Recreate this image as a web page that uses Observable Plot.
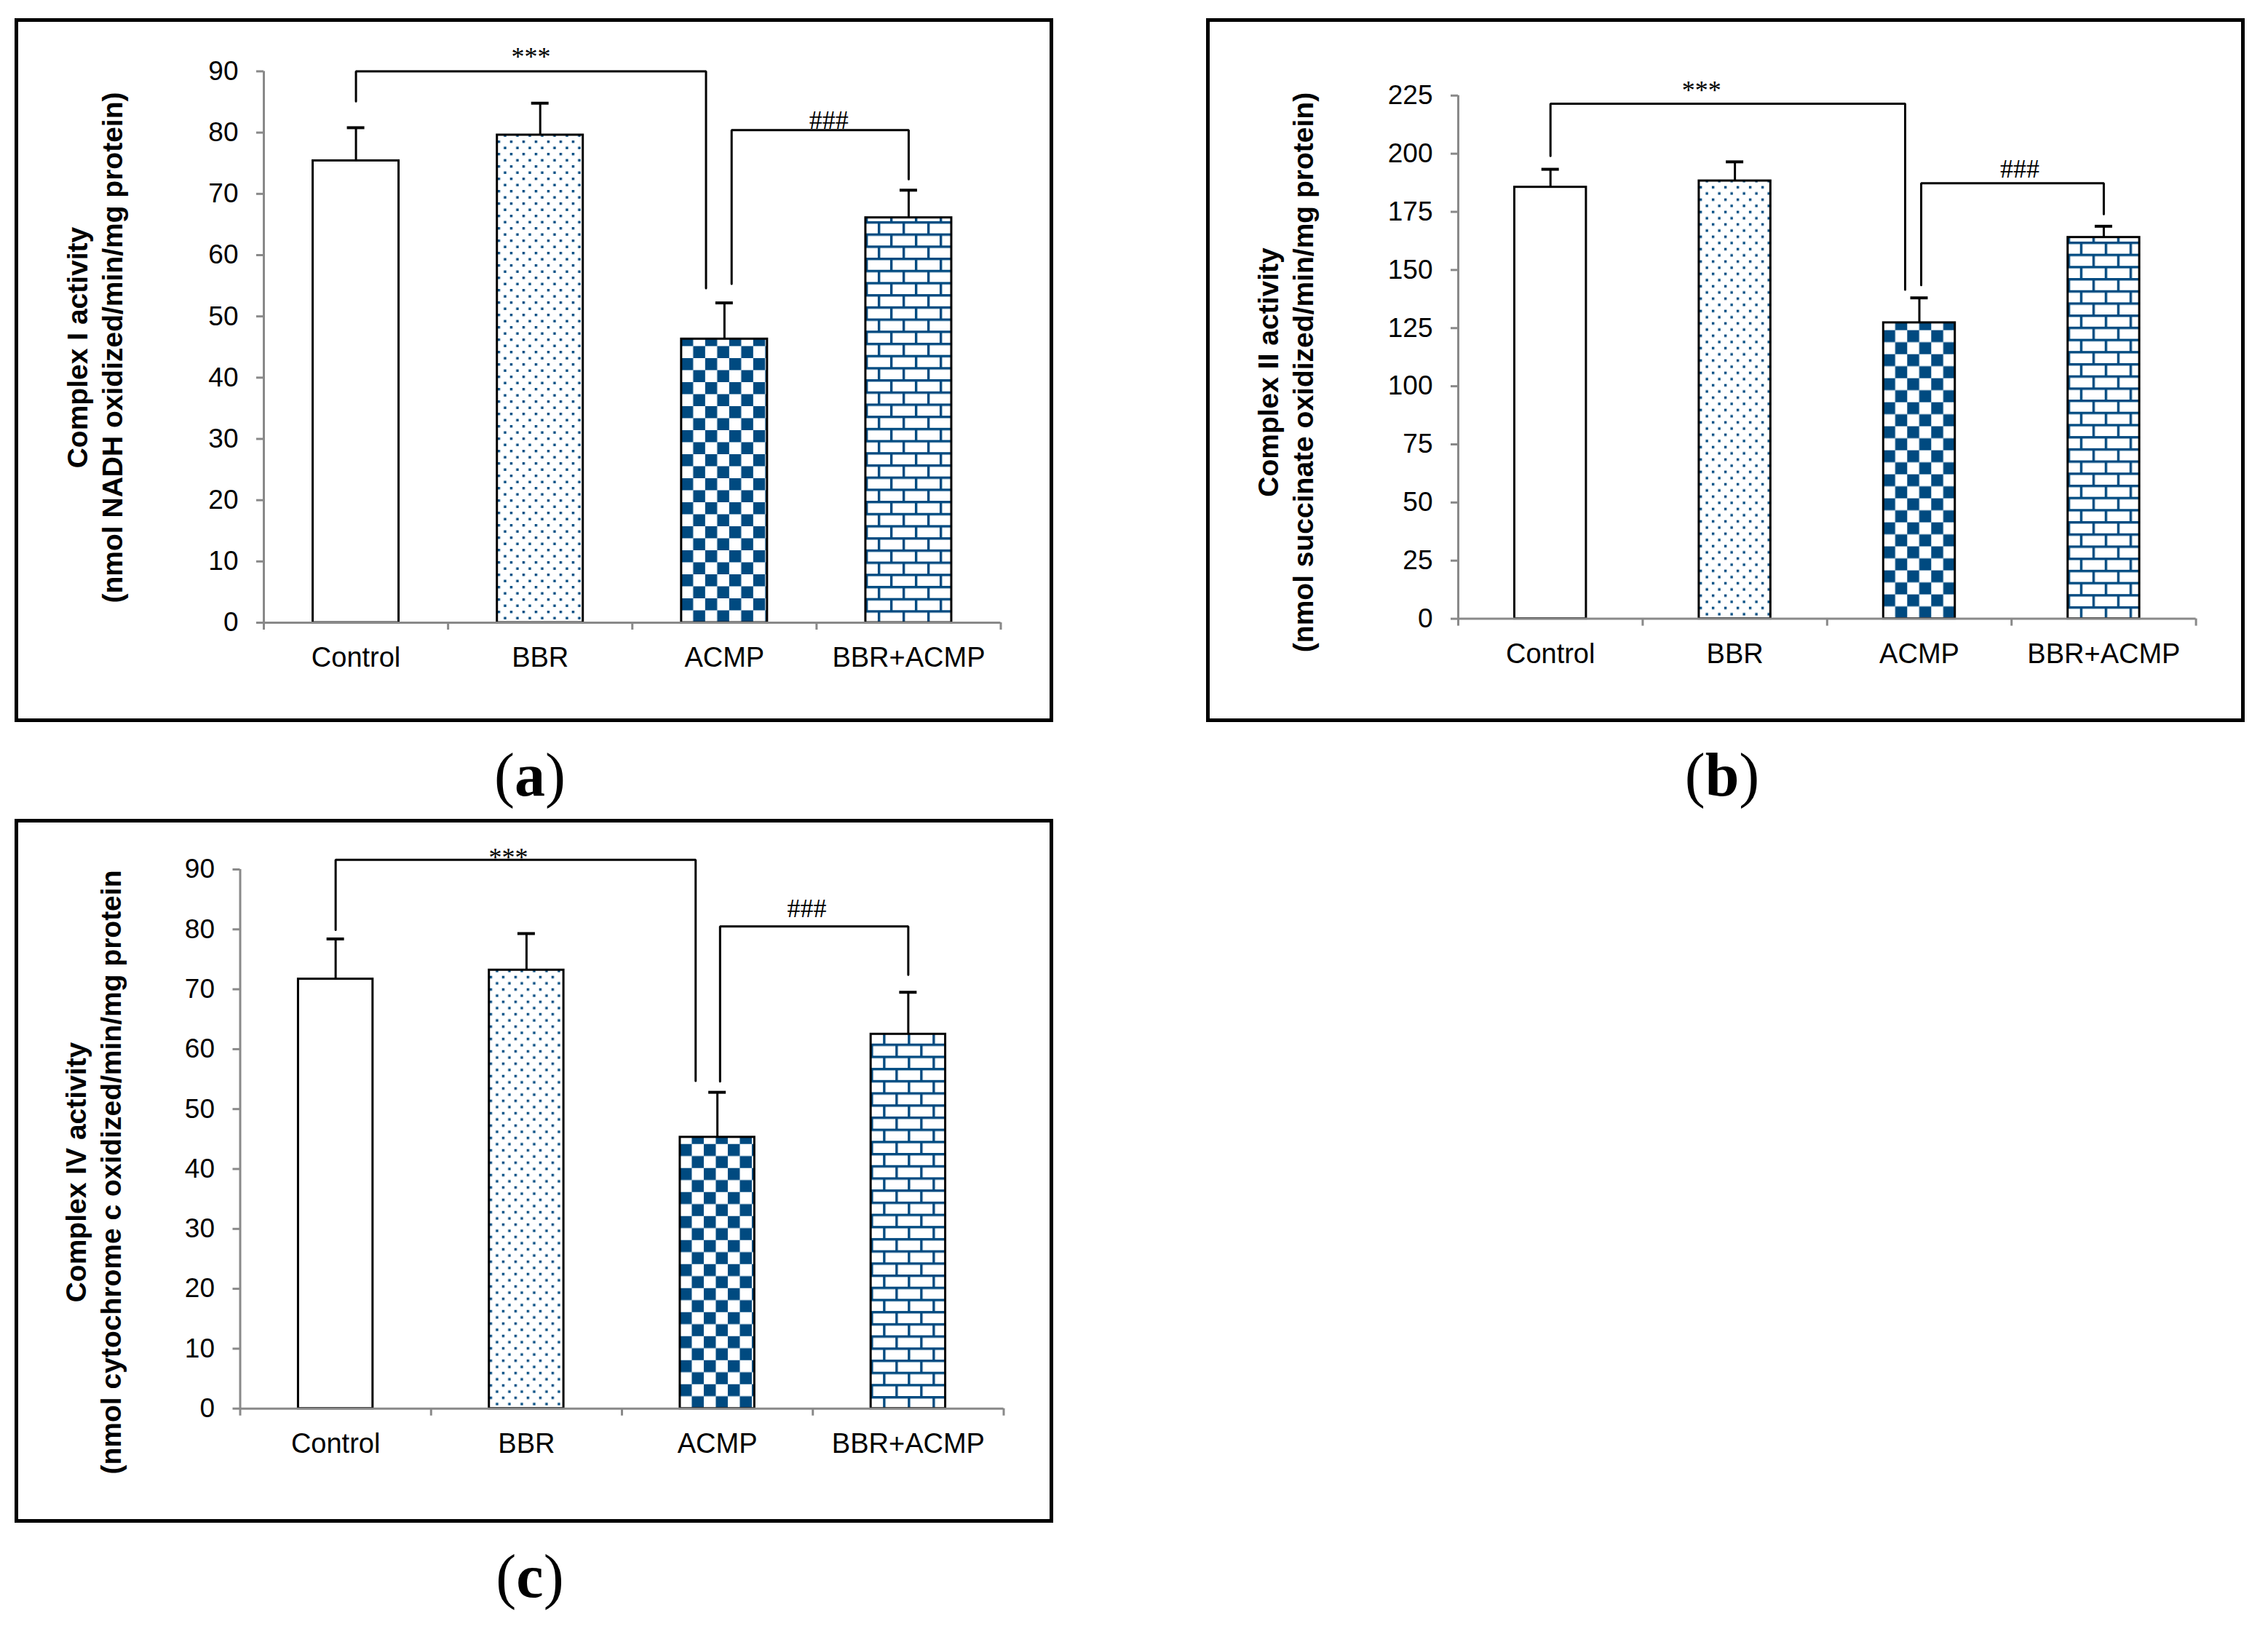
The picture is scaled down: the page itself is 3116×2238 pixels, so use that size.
<!DOCTYPE html>
<html><head><meta charset="utf-8">
<script src="https://cdn.jsdelivr.net/npm/d3@7"></script>
<script src="https://cdn.jsdelivr.net/npm/@observablehq/plot@0.6"></script>
<style>
html,body{margin:0;padding:0;background:#fff;}
#page{position:relative;width:3116px;height:2238px;background:#fff;overflow:hidden;}
.panel{position:absolute;box-sizing:border-box;border:5px solid #000;background:#fff;}
.panel svg{display:block;}
.tag{position:absolute;font-family:"Liberation Serif","Times New Roman",serif;font-size:84px;line-height:1;transform:translate(-50%,-50%);white-space:nowrap;color:#000;}
.tag b{font-weight:bold;}
</style></head><body><div id="page"></div>
<script>
// ---------- data ----------
const groups = ["Control", "BBR", "ACMP", "BBR+ACMP"];
const complexI = [75.4, 79.6, 46.3, 66.1];
const complexIErr = [5.4, 5.2, 5.9, 4.5];
const complexII = [185.6, 188.3, 127.3, 164.0];
const complexIIErr = [7.7, 8.2, 10.7, 4.8];
const complexIV = [71.7, 73.2, 45.3, 62.5];
const complexIVErr = [6.7, 6.1, 7.5, 7.0];
const ticksI = [0, 10, 20, 30, 40, 50, 60, 70, 80, 90];
const ticksII = [0, 25, 50, 75, 100, 125, 150, 175, 200, 225];
const ticksIV = [0, 10, 20, 30, 40, 50, 60, 70, 80, 90];
// significance brackets: bracket level and where each leg ends (in data units)
const bracketsI = [
  {label: "***", from: "Control", to: "ACMP", top: 90, fromEnd: 85.1, toEnd: 54.6},
  {label: "###", from: "ACMP", to: "BBR+ACMP", top: 80.4, fromEnd: 55.3, toEnd: 72.4}
];
const bracketsII = [
  {label: "***", from: "Control", to: "ACMP", top: 221.5, fromEnd: 199.0, toEnd: 141.5},
  {label: "###", from: "ACMP", to: "BBR+ACMP", top: 187.3, fromEnd: 143.5, toEnd: 174.0}
];
const bracketsIV = [
  {label: "***", from: "Control", to: "ACMP", top: 91.6, fromEnd: 79.9, toEnd: 54.7},
  {label: "###", from: "ACMP", to: "BBR+ACMP", top: 80.5, fromEnd: 54.6, toEnd: 72.4}
];

// ---------- layout / style ----------
const BLUE = "#004a80";
const GRAY = "#898989";
const panels = [
  {key: "a", values: complexI, errors: complexIErr, ticks: ticksI, brackets: bracketsI,
   title: "Complex I activity\n(nmol NADH oxidized/min/mg protein)",
   box: {left: 20, top: 25, width: 1427, height: 967},
   margin: {left: 337, right: 67.5, top: 67.5, bottom: 132},
   barWidth: 121, legOffsets: [[0, -0.1], [0.039, 0]], labelOffsets: [[0, -8], [12, -2]],
   titlePos: [103, 447], tagPos: [728, 1065]},
  {key: "b", values: complexII, errors: complexIIErr, ticks: ticksII, brackets: bracketsII,
   title: "Complex II activity\n(nmol succinate oxidized/min/mg protein)",
   box: {left: 1657, top: 25, width: 1427, height: 967},
   margin: {left: 341, right: 62.4, top: 100.8, bottom: 137.4},
   barWidth: 101.4, legOffsets: [[0, -0.077], [0.01, 0]], labelOffsets: [[-36, -6], [10, -8]],
   titlePos: [102, 481], tagPos: [2366, 1065]},
  {key: "c", values: complexIV, errors: complexIVErr, ticks: ticksIV, brackets: bracketsIV,
   title: "Complex IV activity\n(nmol cytochrome c oxidized/min/mg protein",
   box: {left: 20, top: 1125, width: 1427, height: 967},
   margin: {left: 304.5, right: 63.5, top: 64, bottom: 152.3},
   barWidth: 105.4, legOffsets: [[0, -0.114], [0.014, 0]], labelOffsets: [[-10, 9], [-10, -13]],
   titlePos: [101, 480], tagPos: [728, 2166]}
];

const page = document.getElementById("page");

function drawPanel(p) {
  const W = p.box.width - 10, H = p.box.height - 10;
  const m = p.margin;
  const band = (W - m.left - m.right) / groups.length;
  const inset = (band - p.barWidth) / 2 + 1.5;
  const y0 = H - m.bottom;
  const barLeft = i => m.left + i * band + inset;
  const data = groups.map((g, i) => ({group: g, i, value: p.values[i], err: p.errors[i]}));
  const idx = g => groups.indexOf(g);
  const fillFor = {
    "Control": "white",
    "BBR": `url(#dots-${p.key})`,
    "ACMP": `url(#check-${p.key})`,
    "BBR+ACMP": `url(#brick-${p.key})`
  };

  const defsMark = () => {
    const defs = d3.create("svg:defs");
    defs.html(`
      <pattern id="dots-${p.key}" patternUnits="userSpaceOnUse" width="17" height="17" x="${barLeft(1)}" y="${y0}">
        <rect width="17" height="17" fill="white"/>
        <rect x="1" y="1" width="3.4" height="3.4" fill="${BLUE}"/>
        <rect x="9.5" y="9.5" width="3.4" height="3.4" fill="${BLUE}"/>
      </pattern>
      <pattern id="check-${p.key}" patternUnits="userSpaceOnUse" width="33" height="33" x="${barLeft(2)}" y="${y0}">
        <rect width="33" height="33" fill="white"/>
        <rect x="0" y="0" width="16.5" height="16.5" fill="${BLUE}"/>
        <rect x="16.5" y="16.5" width="16.5" height="16.5" fill="${BLUE}"/>
      </pattern>
      <pattern id="brick-${p.key}" patternUnits="userSpaceOnUse" width="34" height="33.4" x="${barLeft(3)}" y="${y0}">
        <rect width="34" height="33.4" fill="${BLUE}"/>
        <rect x="3.4" y="3.4" width="30.6" height="13.3" fill="white"/>
        <rect x="0" y="20.1" width="17" height="13.3" fill="white"/>
        <rect x="20.4" y="20.1" width="13.6" height="13.3" fill="white"/>
      </pattern>`);
    return defs.node();
  };

  const bracketPts = p.brackets.flatMap((b, k) => {
    const x1 = idx(b.from) + 0.5 + p.legOffsets[k][0];
    const x2 = idx(b.to) + 0.5 + p.legOffsets[k][1];
    return [{k, x: x1, y: b.fromEnd}, {k, x: x1, y: b.top}, {k, x: x2, y: b.top}, {k, x: x2, y: b.toEnd}];
  });
  const labelMarks = p.brackets.map((b, k) => {
    const cx = (idx(b.from) + idx(b.to)) / 2 + 0.5 + (p.legOffsets[k][0] + p.legOffsets[k][1]) / 2;
    return Plot.text([{label: b.label, x: cx, y: b.top}], {
      x: "x", y: "y", text: "label", dx: p.labelOffsets[k][0], dy: p.labelOffsets[k][1],
      lineAnchor: "bottom", textAnchor: "middle", fontSize: 36,
      fontFamily: "Liberation Serif, Times New Roman, serif", fill: "black"
    });
  });

  const chart = Plot.plot({
    width: W, height: H,
    marginLeft: m.left, marginRight: m.right, marginTop: m.top, marginBottom: m.bottom,
    x: {domain: [0, groups.length]},
    y: {domain: [p.ticks[0], p.ticks[p.ticks.length - 1]]},
    color: {type: "identity"},
    style: {fontFamily: "Liberation Sans, Arial, sans-serif", fontSize: "37px", color: "black", background: "white", overflow: "visible"},
    marks: [
      defsMark,
      Plot.rectY(data, {x1: "i", x2: d => d.i + 1, y1: 0, y2: "value", insetLeft: inset, insetRight: inset,
        fill: d => fillFor[d.group], stroke: "black", strokeWidth: 3}),
      Plot.ruleX(data, {x: d => d.i + 0.5, y1: "value", y2: d => d.value + d.err, stroke: "black", strokeWidth: 3}),
      Plot.ruleY(data, {y: d => d.value + d.err, x1: d => d.i + 0.5, x2: d => d.i + 0.5,
        insetLeft: -12, insetRight: -12, stroke: "black", strokeWidth: 4}),
      Plot.axisY({ticks: p.ticks, tickSize: 10, tickPadding: 25, stroke: GRAY, strokeWidth: 3,
        fill: "black", fontSize: 37, label: null}),
      Plot.axisX({ticks: d3.range(groups.length + 1), tickSize: 10, tickFormat: () => "",
        stroke: GRAY, strokeWidth: 3, label: null}),
      Plot.axisX({ticks: groups.map((g, i) => i + 0.5), tickSize: 0, tickPadding: 34,
        tickFormat: d => groups[Math.round(d - 0.5)], fill: "black", fontSize: 38, label: null}),
      Plot.ruleX([0], {stroke: GRAY, strokeWidth: 3}),
      Plot.ruleY([0], {stroke: GRAY, strokeWidth: 3}),
      Plot.line(bracketPts, {x: "x", y: "y", z: "k", stroke: "black", strokeWidth: 3, strokeLinejoin: "miter"}),
      ...labelMarks,
      Plot.text([p.title], {text: d => d, frameAnchor: "top-left",
        dx: p.titlePos[0] - m.left, dy: p.titlePos[1] - m.top, rotate: -90,
        textAnchor: "middle", lineAnchor: "middle", lineHeight: 1.23,
        fontWeight: "bold", fontSize: 39, fill: "black"})
    ]
  });

  const box = document.createElement("div");
  box.className = "panel";
  Object.assign(box.style, {left: p.box.left + "px", top: p.box.top + "px", width: p.box.width + "px", height: p.box.height + "px"});
  box.appendChild(chart);
  page.appendChild(box);

  const tag = document.createElement("div");
  tag.className = "tag";
  tag.style.left = p.tagPos[0] + "px";
  tag.style.top = p.tagPos[1] + "px";
  tag.innerHTML = `(<b>${p.key}</b>)`;
  page.appendChild(tag);
}

panels.forEach(drawPanel);
</script>
</body></html>
